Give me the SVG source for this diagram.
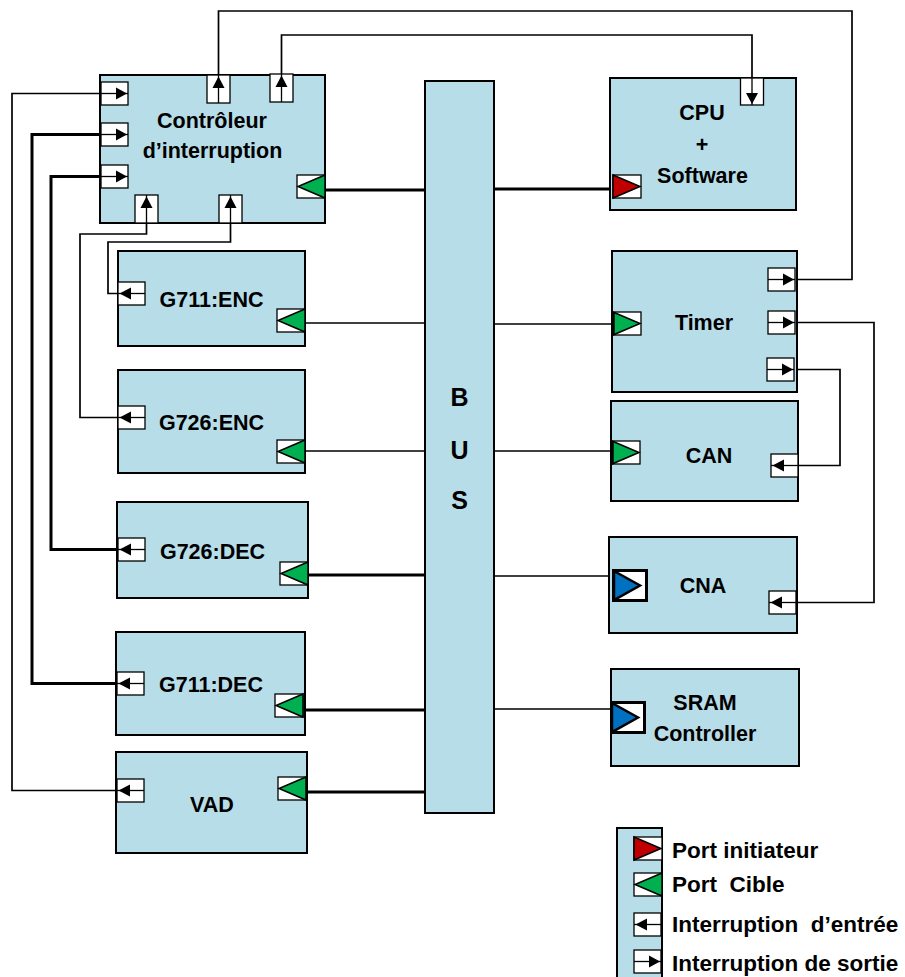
<svg xmlns="http://www.w3.org/2000/svg" xmlns:xlink="http://www.w3.org/1999/xlink" width="905" height="977" viewBox="0 0 905 977">
<style>
.box{fill:#b7dde8;stroke:#000;stroke-width:2}
.prt{fill:#fff;stroke:#000;stroke-width:1.3}
.ln{stroke:#000;stroke-width:1.3;fill:none}
.ah{fill:#000;stroke:none}
.thin{fill:none;stroke:#000;stroke-width:1.7}
.thick{fill:none;stroke:#000;stroke-width:3}
.t{font-family:"Liberation Sans",Arial,sans-serif;font-weight:bold;font-size:21.5px;text-anchor:middle;fill:#000}
.lg{font-family:"Liberation Sans",Arial,sans-serif;font-weight:bold;font-size:22.5px;fill:#000}
.bus{font-family:"Liberation Sans",Arial,sans-serif;font-weight:bold;font-size:25px;text-anchor:middle;fill:#000}
</style>
<defs>
<g id="tgtL"><rect class="prt" x="0" y="0" width="28" height="23"/><polygon points="28,0 1,11.5 28,23" fill="#00b050" stroke="#000" stroke-width="1.5"/></g>
<g id="tgtR"><rect class="prt" x="0" y="0" width="28" height="23"/><polygon points="0,0 27,11.5 0,23" fill="#00b050" stroke="#000" stroke-width="1.5"/><line x1="0.5" y1="0" x2="0.5" y2="23" stroke="#000" stroke-width="2.5"/></g>
<g id="ini"><rect class="prt" x="0" y="0" width="28" height="23"/><polygon points="0,0 27,11.5 0,23" fill="#c00000" stroke="#000" stroke-width="1.5"/></g>
<g id="inL"><rect class="prt" x="0" y="0" width="27" height="23"/><line class="ln" x1="0" y1="11.5" x2="27" y2="11.5"/><polygon class="ah" points="1.5,11.5 13,5.5 13,17.5"/></g>
<g id="outR"><rect class="prt" x="0" y="0" width="27" height="23"/><line class="ln" x1="0" y1="11.5" x2="27" y2="11.5"/><polygon class="ah" points="26,11.5 15,5.5 15,17.5"/></g>
<g id="upP"><rect class="prt" x="0" y="0" width="23" height="28"/><line class="ln" x1="11.5" y1="0" x2="11.5" y2="28"/><polygon class="ah" points="11.5,1.5 5.5,13 17.5,13"/></g>
<g id="dnP"><rect class="prt" x="0" y="0" width="23" height="27"/><line class="ln" x1="11.5" y1="0" x2="11.5" y2="27"/><polygon class="ah" points="11.5,26 5.5,15 17.5,15"/></g>
<g id="blu"><rect x="1.5" y="1.5" width="33" height="30" fill="#fff" stroke="#000" stroke-width="3"/><polygon points="2,2 28,16.5 2,31" fill="#0070c0" stroke="#000" stroke-width="2.5"/></g>
</defs>

<g id="connectors">
<path class="thin" d="M117,790.5 H12 V93.5 H101"/>
<path class="thick" d="M117,683.5 H32 V134.5 H101"/>
<path class="thick" d="M118,549.5 H51 V176.5 H101"/>
<path class="thin" d="M146.5,223 V234 H80 V417.5 H118"/>
<path class="thin" d="M230.5,223 V242 H108 V293.5 H118"/>
<path class="thin" d="M218.5,75 V11 H852 V279.5 H796"/>
<path class="thin" d="M281.5,74 V35 H752 V78"/>
<path class="thin" d="M795,322.5 H874 V602.5 H796"/>
<path class="thin" d="M794,369.5 H840 V465.5 H798"/>
<path class="thick" d="M325,190 H425"/>
<path class="thick" d="M494,189 H613"/>
<path class="thin" d="M305,323 H425"/>
<path class="thin" d="M494,324 H613"/>
<path class="thin" d="M305,451 H425"/>
<path class="thin" d="M494,451 H612"/>
<path class="thick" d="M308,575 H425"/>
<path class="thin" d="M494,576 H613"/>
<path class="thick" d="M305,710 H425"/>
<path class="thin" d="M492,709 H611"/>
<path class="thick" d="M307,792 H425"/>
</g>

<g id="bus">
<rect class="box" x="425" y="81" width="69" height="732"/>
<text class="bus" x="459.5" y="406">B</text>
<text class="bus" x="459.5" y="459">U</text>
<text class="bus" x="459.5" y="509">S</text>
</g>

<g id="controleur">
<rect class="box" x="100" y="75" width="225" height="148"/>
<text class="t" x="212" y="128">Contrôleur</text>
<text class="t" x="212.5" y="158">d’interruption</text>
<use href="#outR" x="101" y="82"/>
<use href="#outR" x="101" y="123"/>
<use href="#outR" x="101" y="165"/>
<use href="#upP" x="207" y="75"/>
<use href="#upP" x="270" y="74"/>
<use href="#upP" x="135" y="195"/>
<use href="#upP" x="219" y="195"/>
<use href="#tgtL" x="297" y="175"/>
</g>

<g id="cpu">
<rect class="box" x="610" y="78" width="186" height="132"/>
<text class="t" x="702" y="120">CPU</text>
<text class="t" x="702" y="152">+</text>
<text class="t" x="702.5" y="183">Software</text>
<use href="#dnP" x="740.5" y="78"/>
<use href="#ini" x="613" y="175"/>
</g>

<g id="g711enc">
<rect class="box" x="118" y="251" width="187" height="95"/>
<text class="t" x="211.5" y="307">G711:ENC</text>
<use href="#inL" x="118" y="282"/>
<use href="#tgtL" x="277" y="309"/>
</g>

<g id="g726enc">
<rect class="box" x="118" y="370" width="187" height="103"/>
<text class="t" x="211.5" y="430">G726:ENC</text>
<use href="#inL" x="118" y="406"/>
<use href="#tgtL" x="277" y="440"/>
</g>

<g id="g726dec">
<rect class="box" x="117" y="502" width="191" height="96"/>
<text class="t" x="212.5" y="559">G726:DEC</text>
<use href="#inL" x="118" y="538"/>
<use href="#tgtL" x="280" y="562"/>
</g>

<g id="g711dec">
<rect class="box" x="116" y="632" width="189" height="103"/>
<text class="t" x="211" y="692">G711:DEC</text>
<use href="#inL" x="117" y="672"/>
<use href="#tgtL" x="275" y="694"/>
</g>

<g id="vad">
<rect class="box" x="116" y="752" width="191" height="101"/>
<text class="t" x="212" y="812">VAD</text>
<use href="#inL" x="117" y="779"/>
<use href="#tgtL" x="278" y="777"/>
</g>

<g id="timer">
<rect class="box" x="612" y="251" width="185" height="141"/>
<text class="t" x="704" y="330">Timer</text>
<use href="#tgtR" x="613" y="312"/>
<use href="#outR" x="768" y="268"/>
<use href="#outR" x="768" y="311"/>
<use href="#outR" x="767" y="358"/>
</g>

<g id="can">
<rect class="box" x="611" y="401" width="187" height="100"/>
<text class="t" x="709" y="463">CAN</text>
<use href="#tgtR" x="612" y="441"/>
<use href="#inL" x="771" y="454"/>
</g>

<g id="cna">
<rect class="box" x="609" y="537" width="188" height="96"/>
<text class="t" x="703" y="593">CNA</text>
<use href="#blu" x="612" y="569"/>
<use href="#inL" x="769" y="591"/>
</g>

<g id="sram">
<rect class="box" x="611" y="669" width="188" height="97"/>
<text class="t" x="705" y="710">SRAM</text>
<text class="t" x="705" y="741">Controller</text>
<use href="#blu" x="610" y="701"/>
</g>

<g id="legende">
<rect class="box" x="617" y="828" width="45" height="160"/>
<use href="#ini" x="634" y="837"/>
<use href="#tgtL" x="634" y="873"/>
<use href="#inL" x="634" y="913"/>
<use href="#outR" x="634" y="950"/>
<text class="lg" x="672" y="858">Port initiateur</text>
<text class="lg" x="672" y="892" xml:space="preserve">Port  Cible</text>
<text class="lg" x="672" y="932" xml:space="preserve">Interruption  d’entrée</text>
<text class="lg" x="672" y="971">Interruption de sortie</text>
</g>
</svg>
